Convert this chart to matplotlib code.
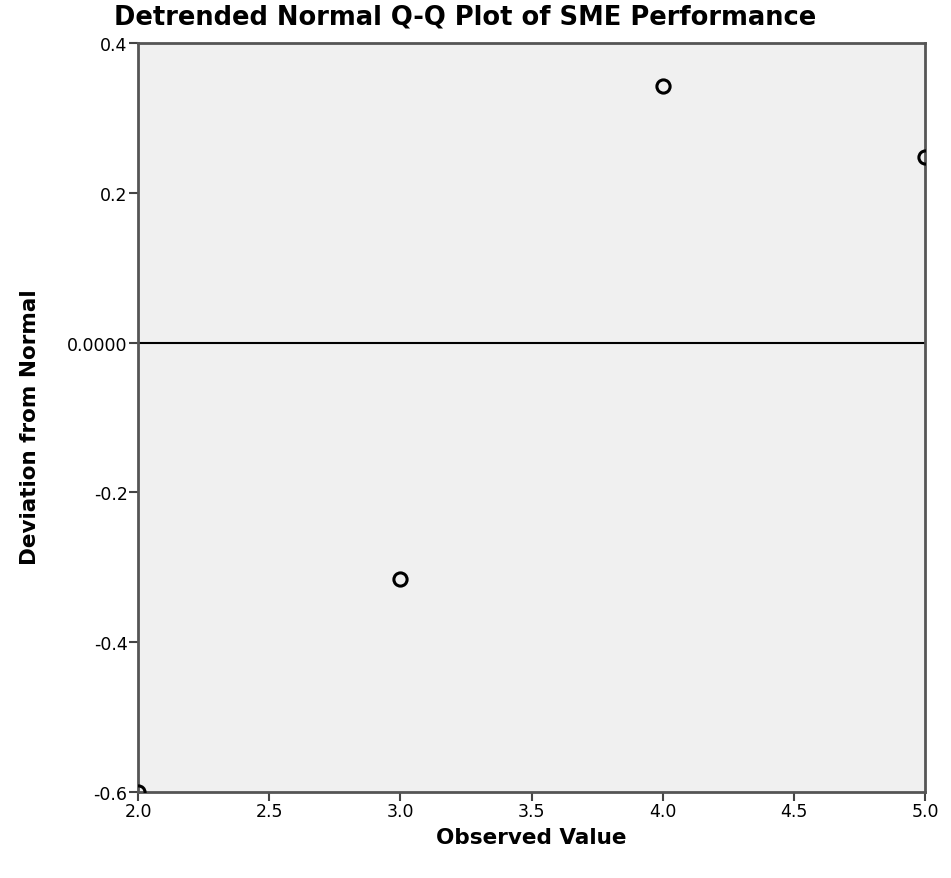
import matplotlib
matplotlib.use("Agg")
import matplotlib.pyplot as plt

plt.rcParams["font.family"] = ["DejaVu Sans"]

# observed values and their deviation from the normal line
observed = [2.0, 3.0, 4.0, 5.0]
deviation = [-0.600, -0.316, 0.342, 0.248]

x_ticks = [2.0, 2.5, 3.0, 3.5, 4.0, 4.5, 5.0]
y_ticks = [-0.6, -0.4, -0.2, 0.0, 0.2, 0.4]
y_tick_labels = ["-0.6", "-0.4", "-0.2", "0.0000", "0.2", "0.4"]

W, H = 951, 879
fig = plt.figure(figsize=(W / 100, H / 100), dpi=100)
ax = fig.add_axes([138 / W, 1 - 793 / H, (925 - 138) / W, (793 - 44) / H])
ax.set_facecolor("#f0f0f0")

ax.axhline(0, color="black", lw=1.5, zorder=1)
ax.plot(observed, deviation, "o", ms=9.5, mfc="none", mec="black", mew=2.2, zorder=3)

ax.set_xlim(2.0, 5.0)
ax.set_ylim(-0.6, 0.4)
ax.set_xticks(x_ticks)
ax.set_xticklabels([f"{v:.1f}" for v in x_ticks])
ax.set_yticks(y_ticks)
ax.set_yticklabels(y_tick_labels)
ax.tick_params(direction="out", length=6.5, width=1.5, color="#444444", labelsize=12.5, pad=1)

for side in ["left", "bottom", "top", "right"]:
    ax.spines[side].set_color("#555555")
    ax.spines[side].set_linewidth(2)

fig.text(531 / W, 1 - 838 / H, "Observed Value", fontsize=15.5, fontweight="bold",
         ha="center", va="center")
fig.text(30 / W, 1 - 427 / H, "Deviation from Normal", fontsize=15.5, fontweight="bold",
         ha="center", va="center", rotation=90)
fig.text(465 / W, 1 - 18 / H, "Detrended Normal Q-Q Plot of SME Performance",
         fontsize=18.5, fontweight="bold", ha="center", va="center")

fig.savefig("out.png", dpi=100)
